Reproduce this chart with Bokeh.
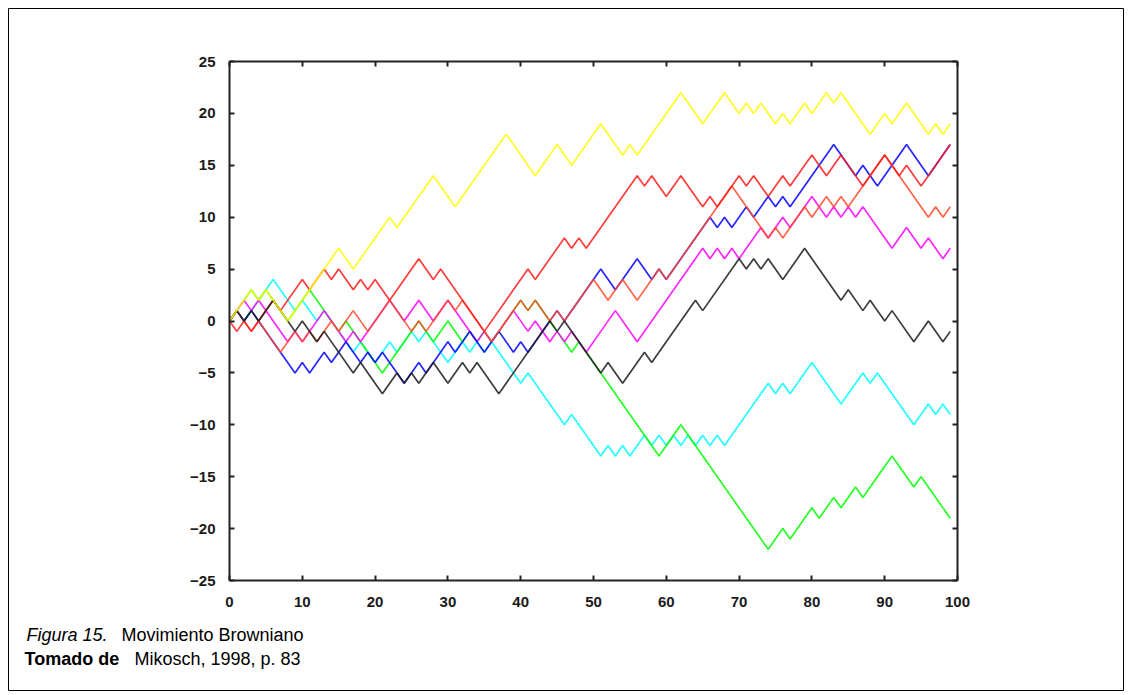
from bokeh.plotting import figure
from bokeh.models import LinearAxis, Range1d, Label, FixedTicker
from bokeh.embed import file_html
from bokeh.resources import INLINE

# ---- data: turning points of each random walk (x = step, y = position) ----
x_ticks = [0, 10, 20, 30, 40, 50, 60, 70, 80, 90, 100]
y_ticks = [-25, -20, -15, -10, -5, 0, 5, 10, 15, 20, 25]

yellow_x = [0, 3, 4, 5, 8, 13, 15, 17, 22, 23, 28, 31, 38, 42, 45, 47, 51, 54, 55, 56, 62, 65, 68, 70, 71, 72, 73, 75, 76, 77, 79, 80, 82, 83, 84, 88, 90, 91, 93, 96, 97, 98, 99]
yellow_y = [0, 3, 2, 3, 0, 5, 7, 5, 10, 9, 14, 11, 18, 14, 17, 15, 19, 16, 17, 16, 22, 19, 22, 20, 21, 20, 21, 19, 20, 19, 21, 20, 22, 21, 22, 18, 20, 19, 21, 18, 19, 18, 19]

green_x = [0, 3, 4, 5, 8, 11, 15, 16, 21, 26, 28, 30, 32, 33, 34, 35, 36, 40, 41, 42, 46, 47, 48, 49, 59, 62, 74, 76, 77, 80, 81, 83, 84, 86, 87, 91, 94, 95, 99]
green_y = [0, 3, 2, 3, 0, 3, -1, 0, -5, 0, -2, 0, -2, -1, -2, -1, -2, 2, 1, 2, -2, -3, -2, -3, -13, -10, -22, -20, -21, -18, -19, -17, -18, -16, -17, -13, -16, -15, -19]

cyan_x = [0, 1, 2, 6, 9, 10, 12, 13, 17, 18, 20, 21, 22, 23, 25, 26, 27, 30, 32, 33, 34, 35, 36, 40, 41, 46, 47, 51, 52, 53, 54, 55, 57, 58, 59, 60, 61, 62, 63, 64, 65, 66, 67, 68, 74, 75, 76, 77, 80, 84, 87, 88, 89, 94, 96, 97, 98, 99]
cyan_y = [0, 1, 0, 4, 1, 2, 0, 1, -3, -2, -4, -3, -2, -3, -1, -2, -1, -4, -2, -3, -2, -3, -2, -6, -5, -10, -9, -13, -12, -13, -12, -13, -11, -12, -11, -12, -11, -12, -11, -12, -11, -12, -11, -12, -6, -7, -6, -7, -4, -8, -5, -6, -5, -10, -8, -9, -8, -9]

magenta_x = [0, 2, 3, 4, 8, 9, 10, 13, 16, 17, 18, 22, 24, 26, 28, 30, 34, 35, 36, 37, 39, 41, 42, 44, 45, 46, 47, 49, 51, 53, 56, 65, 66, 67, 68, 69, 70, 73, 74, 76, 77, 80, 82, 83, 84, 85, 86, 87, 91, 93, 95, 96, 98, 99]
magenta_y = [0, 2, 1, 2, -2, -1, -2, 1, -2, -1, -2, 2, 0, 2, 0, 2, -2, -1, -2, -1, 1, -1, 0, -2, -1, -2, -1, -3, -1, 1, -2, 7, 6, 7, 6, 7, 6, 9, 8, 10, 9, 12, 10, 11, 10, 11, 10, 11, 7, 9, 7, 8, 6, 7]

black_x = [0, 1, 2, 3, 4, 6, 9, 10, 12, 13, 17, 18, 21, 23, 24, 25, 26, 28, 30, 32, 33, 34, 37, 44, 45, 46, 51, 52, 54, 57, 58, 64, 65, 70, 71, 72, 73, 74, 76, 79, 84, 85, 87, 88, 90, 91, 94, 96, 98, 99]
black_y = [0, 1, 0, 1, 0, 2, -1, 0, -2, -1, -5, -4, -7, -5, -6, -5, -6, -4, -6, -4, -5, -4, -7, 0, -1, 0, -5, -4, -6, -3, -4, 2, 1, 6, 5, 6, 5, 6, 4, 7, 2, 3, 1, 2, 0, 1, -2, 0, -2, -1]

blue_x = [0, 1, 2, 3, 9, 10, 11, 13, 14, 16, 18, 19, 20, 21, 24, 26, 27, 30, 31, 33, 35, 37, 39, 40, 41, 45, 46, 51, 53, 56, 58, 59, 60, 66, 67, 68, 69, 71, 72, 74, 75, 76, 77, 83, 86, 87, 89, 93, 96, 99]
blue_y = [0, 1, 0, 1, -5, -4, -5, -3, -4, -2, -4, -3, -4, -3, -6, -4, -5, -2, -3, -1, -3, -1, -3, -2, -3, 1, 0, 5, 3, 6, 4, 5, 4, 10, 9, 10, 9, 11, 10, 12, 11, 12, 11, 17, 14, 15, 13, 17, 14, 17]

red_x = [0, 1, 2, 3, 6, 7, 10, 11, 13, 14, 15, 17, 18, 19, 20, 22, 26, 28, 29, 35, 41, 42, 46, 47, 48, 49, 56, 57, 58, 60, 62, 65, 66, 67, 70, 71, 72, 74, 76, 77, 80, 82, 84, 86, 87, 90, 92, 93, 95, 96, 99]
red_y = [0, -1, 0, -1, 2, 1, 4, 3, 5, 4, 5, 3, 4, 3, 4, 2, 6, 4, 5, -1, 5, 4, 8, 7, 8, 7, 14, 13, 14, 12, 14, 11, 12, 11, 14, 13, 14, 12, 14, 13, 16, 14, 16, 14, 13, 16, 14, 15, 13, 14, 17]

orange_x = [0, 1, 3, 4, 7, 9, 10, 11, 12, 14, 15, 17, 19, 22, 25, 26, 27, 30, 31, 32, 36, 40, 41, 42, 44, 45, 46, 50, 51, 52, 54, 56, 58, 59, 60, 66, 69, 73, 74, 75, 76, 79, 80, 82, 83, 84, 85, 90, 96, 97, 98, 99]
orange_y = [0, 1, -1, 0, -3, -1, -2, -1, -2, 0, -1, 1, -1, 2, -1, 0, -1, 2, 1, 2, -2, 2, 1, 2, 0, 1, 0, 4, 3, 2, 4, 2, 4, 5, 4, 10, 13, 9, 8, 9, 8, 11, 10, 12, 11, 12, 11, 16, 10, 11, 10, 11]

walks = [
    (cyan_x, cyan_y, "#00ffff"),
    (green_x, green_y, "#00ff00"),
    (magenta_x, magenta_y, "#ff00ff"),
    (blue_x, blue_y, "#0000ff"),
    (orange_x, orange_y, "#ff4a2a"),
    (red_x, red_y, "#ff1a1a"),
    (black_x, black_y, "#1a1a1a"),
    (yellow_x, yellow_y, "#ffff00"),
]

# ---- page geometry (pixels) ----
W, H = 1131, 695
BOX_L, BOX_R, BOX_T, BOX_B = 8, 1123, 8, 690          # outer border
CH_L, CH_R, CH_T, CH_B = 229, 957, 61, 580           # chart box
X0, X1, Y0, Y1 = 0, 100, -25, 25
sx = (CH_R - CH_L) / (X1 - X0)
sy = (CH_B - CH_T) / (Y1 - Y0)

def xd(px):
    return X0 + (px - CH_L) / sx

def yd(py):
    return Y1 - (py - CH_T) / sy

p = figure(width=W, height=H,
           x_range=Range1d(xd(BOX_L), xd(BOX_R)), y_range=Range1d(yd(BOX_B), yd(BOX_T)),
           output_backend="svg", toolbar_location=None,
           min_border_left=BOX_L, min_border_right=W - BOX_R,
           min_border_top=BOX_T, min_border_bottom=H - BOX_B)
p.grid.visible = False
p.outline_line_color = "black"
p.outline_line_width = 1
p.background_fill_color = "white"
p.border_fill_color = "white"

for xs, ys, c in walks:
    p.line(xs, ys, line_color=c, line_width=1.7, line_alpha=0.85)

def style_axis(ax, show_labels):
    ax.axis_line_color = "#222222"
    ax.axis_line_width = 2
    ax.major_tick_in = 5
    ax.major_tick_out = 0
    ax.major_tick_line_color = "#222222"
    ax.major_tick_line_width = 2
    ax.minor_tick_line_color = None
    ax.major_label_text_font = "Liberation Sans"
    ax.major_label_text_font_size = "15px" if show_labels else "0px"
    ax.major_label_text_font_style = "bold"
    ax.major_label_text_color = "#1a1a1a" if show_labels else None

xa = p.xaxis[0]
ya = p.yaxis[0]
xa.ticker = FixedTicker(ticks=x_ticks)
ya.ticker = FixedTicker(ticks=y_ticks)
style_axis(xa, True)
style_axis(ya, True)
xa.fixed_location = Y0
ya.fixed_location = X0
xa.bounds = (X0, X1)
ya.bounds = (Y0, Y1)
xa.major_label_standoff = 16
ya.major_label_standoff = 14

top = LinearAxis(ticker=FixedTicker(ticks=x_ticks), fixed_location=Y1, bounds=(X0, X1))
style_axis(top, False)
p.add_layout(top, "above")
right = LinearAxis(ticker=FixedTicker(ticks=y_ticks), fixed_location=X1, bounds=(Y0, Y1))
style_axis(right, False)
p.add_layout(right, "right")

cap = [
    ("Figura 15.", 26, 634, "italic"),
    ("Movimiento Browniano", 121, 634, "normal"),
    ("Tomado de", 24, 658, "bold"),
    ("Mikosch, 1998, p. 83", 134, 658, "normal"),
]
for t, cx, cy, st in cap:
    p.add_layout(Label(x=xd(cx), y=yd(cy), text=t, text_font="Liberation Sans",
                       text_font_size="18px", text_font_style=st, text_color="black",
                       text_baseline="alphabetic", text_align="left"))

open("out.html", "w").write(file_html(p, INLINE))
